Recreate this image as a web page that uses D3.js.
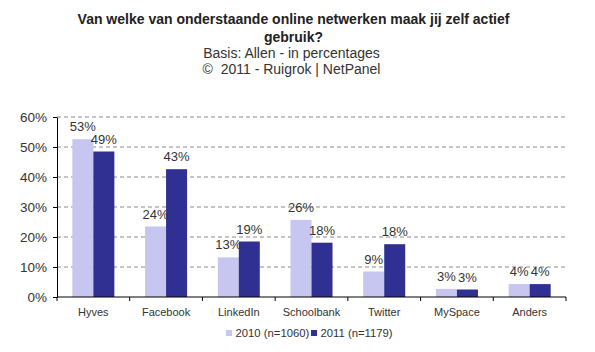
<!DOCTYPE html>
<html>
<head>
<meta charset="utf-8">
<script src="https://cdn.jsdelivr.net/npm/d3@7"></script>
<style>
  body { margin: 0; background: #fff; }
  svg { display: block; font-family: "Liberation Sans", Arial, sans-serif; }
</style>
</head>
<body>
<div id="chart"></div>
<script>
const categories = ["Hyves", "Facebook", "LinkedIn", "Schoolbank", "Twitter", "MySpace", "Anders"];
const seriesNames = ["2010 (n=1060)", "2011 (n=1179)"];
const values2010 = [52.6, 23.5, 13.2, 25.7, 8.5, 2.7, 4.3];
const values2011 = [48.5, 42.6, 18.5, 18.1, 17.6, 2.5, 4.3];
const yTicks = [0, 10, 20, 30, 40, 50, 60];
const titleLines = [
    "Van welke van onderstaande online netwerken maak jij zelf actief",
    "gebruik?"
];
const subtitleLines = ["Basis: Allen - in percentages", "\u00A9\u00A0 2011 - Ruigrok | NetPanel"];

const colors = ["#c6c6f0", "#2f3092"];
const width = 595, height = 352;
const margin = { top: 117, right: 29, bottom: 55, left: 57 };

const svg = d3.select("#chart")
    .append("svg")
    .attr("width", width)
    .attr("height", height);

// titles
svg.selectAll("text.title")
    .data(titleLines)
    .enter()
    .append("text")
    .attr("class", "title")
    .attr("x", 293.5)
    .attr("y", (d, i) => 24 + i * 17.5)
    .attr("text-anchor", "middle")
    .style("font-size", "14px")
    .style("font-weight", "bold")
    .style("fill", "#222")
    .text(d => d);

svg.selectAll("text.subtitle")
    .data(subtitleLines)
    .enter()
    .append("text")
    .attr("class", "subtitle")
    .attr("x", 291.5)
    .attr("y", (d, i) => 57.5 + i * 16.5)
    .attr("text-anchor", "middle")
    .style("font-size", "14px")
    .style("fill", "#333")
    .style("white-space", "pre")
    .text(d => d);

const x0 = d3.scaleBand()
    .domain(categories)
    .range([margin.left, width - margin.right]);

const x1 = d3.scaleBand()
    .domain([0, 1])
    .range([0, x0.bandwidth()])
    .paddingOuter(0.73);

const y = d3.scaleLinear()
    .domain([0, 60])
    .range([height - margin.bottom, margin.top]);

// dashed gridlines
svg.append("g")
    .selectAll("line")
    .data(yTicks.filter(t => t > 0))
    .enter()
    .append("line")
    .attr("x1", margin.left)
    .attr("x2", width - margin.right)
    .attr("y1", d => y(d))
    .attr("y2", d => y(d))
    .attr("stroke", "#8a8a8a")
    .attr("stroke-width", 1)
    .attr("stroke-dasharray", "4,3");

// bars
const data = categories.map((c, i) => ({ cat: c, vals: [values2010[i], values2011[i]] }));

const groups = svg.append("g")
    .selectAll("g")
    .data(data)
    .enter()
    .append("g")
    .attr("transform", d => `translate(${x0(d.cat)},0)`);

groups.selectAll("rect")
    .data(d => d.vals.map((v, k) => ({ v, k })))
    .enter()
    .append("rect")
    .attr("x", d => x1(d.k))
    .attr("width", x1.bandwidth())
    .attr("y", d => y(d.v))
    .attr("height", d => y(0) - y(d.v))
    .attr("fill", d => colors[d.k]);

groups.selectAll("text")
    .data(d => d.vals.map((v, k) => ({ v, k })))
    .enter()
    .append("text")
    .attr("x", d => x1(d.k) + x1.bandwidth() / 2)
    .attr("y", d => y(d.v) - 8)
    .attr("text-anchor", "middle")
    .style("font-size", "13px")
    .style("fill", "#333")
    .text(d => Math.round(d.v) + "%");

// y axis
const yAxis = svg.append("g")
    .attr("transform", `translate(${margin.left},0)`)
    .call(d3.axisLeft(y).tickValues(yTicks).tickFormat(d => d + "%").tickSize(4).tickSizeOuter(0));
yAxis.select(".domain").attr("stroke", "#000");
yAxis.selectAll(".tick line").attr("stroke", "#000");
yAxis.selectAll(".tick text")
    .attr("x", -10)
    .style("font-size", "13.5px")
    .style("fill", "#333")
    .style("font-family", "\"Liberation Sans\", Arial, sans-serif");

// x axis
const xAxis = svg.append("g")
    .attr("transform", `translate(0,${y(0)})`);
xAxis.append("line")
    .attr("x1", margin.left)
    .attr("x2", width - margin.right)
    .attr("stroke", "#000");
const boundaries = categories.map(c => x0(c)).concat([x0(categories[categories.length - 1]) + x0.bandwidth()]);
xAxis.selectAll("line.tk")
    .data(boundaries)
    .enter()
    .append("line")
    .attr("class", "tk")
    .attr("x1", d => d)
    .attr("x2", d => d)
    .attr("y1", 0)
    .attr("y2", 4)
    .attr("stroke", "#000");
xAxis.selectAll("text")
    .data(categories)
    .enter()
    .append("text")
    .attr("x", d => x0(d) + x0.bandwidth() / 2)
    .attr("y", 19)
    .attr("text-anchor", "middle")
    .style("font-size", "11px")
    .style("fill", "#333")
    .text(d => d);

// legend
const legend = svg.append("g").attr("transform", "translate(226,333)");
const legendX = [0, 85];
seriesNames.forEach((name, i) => {
    legend.append("rect")
        .attr("x", legendX[i])
        .attr("y", -3)
        .attr("width", 6)
        .attr("height", 6)
        .attr("fill", colors[i]);
    legend.append("text")
        .attr("x", legendX[i] + 9.5)
        .attr("y", 4)
        .style("font-size", "11.3px")
        .style("fill", "#333")
        .text(name);
});
</script>
</body>
</html>
